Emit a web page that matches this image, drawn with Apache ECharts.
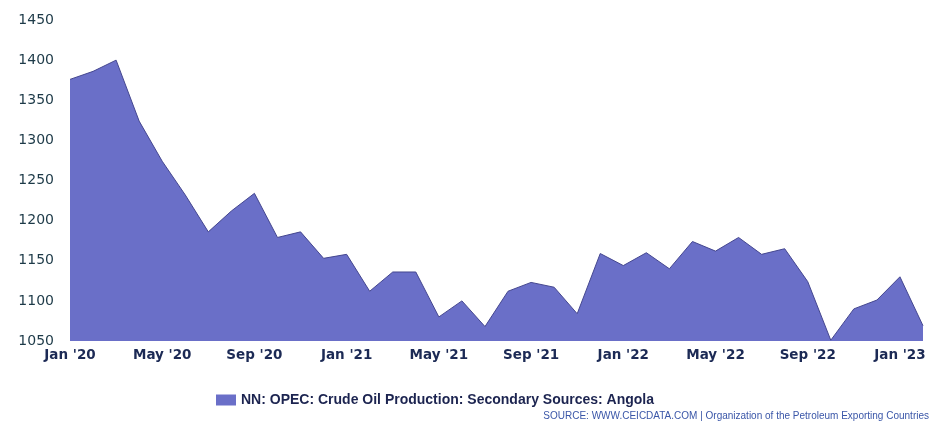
<!DOCTYPE html>
<html>
<head>
<meta charset="utf-8">
<script src="https://cdn.jsdelivr.net/npm/echarts@6/dist/echarts.min.js"></script>
<style>
html,body{margin:0;padding:0;background:#fff;}
#chart{width:931px;height:429px;}
</style>
</head>
<body>
<div id="chart"></div>
<script>
const months = [
  "Jan '20","Feb '20","Mar '20","Apr '20","May '20","Jun '20","Jul '20","Aug '20","Sep '20","Oct '20","Nov '20","Dec '20",
  "Jan '21","Feb '21","Mar '21","Apr '21","May '21","Jun '21","Jul '21","Aug '21","Sep '21","Oct '21","Nov '21","Dec '21",
  "Jan '22","Feb '22","Mar '22","Apr '22","May '22","Jun '22","Jul '22","Aug '22","Sep '22","Oct '22","Nov '22","Dec '22",
  "Jan '23","Feb '23"
];
const angolaProduction = [
  1376, 1386, 1400, 1324, 1274, 1232, 1186, 1212, 1234, 1179, 1186, 1153,
  1158, 1112, 1136, 1136, 1080, 1100, 1068, 1112, 1123, 1117, 1084, 1159,
  1144, 1160, 1140, 1174, 1162, 1179, 1158, 1165, 1124, 1051, 1090, 1101,
  1130, 1069
];
const seriesName = "NN: OPEC: Crude Oil Production: Secondary Sources: Angola";
const sourceText = "SOURCE: WWW.CEICDATA.COM | Organization of the Petroleum Exporting Countries";

const chart = echarts.init(document.getElementById('chart'), null, {renderer: 'canvas'});
chart.setOption({
  animation: false,
  backgroundColor: '#ffffff',
  grid: {left: 70, right: 8, top: 20, bottom: 88},
  legend: {
    data: [seriesName],
    left: 211,
    top: 388,
    icon: 'rect',
    itemWidth: 20,
    itemHeight: 11,
    itemGap: 4,
    textStyle: {fontFamily: 'Liberation Sans, Arial, sans-serif', fontWeight: 'bold', fontSize: 14, color: '#1c2450'}
  },
  graphic: [{
    type: 'text',
    right: 2,
    top: 411,
    style: {text: sourceText, fontFamily: 'Liberation Sans, Arial, sans-serif', fontSize: 10, fill: '#3a56a8'}
  }],
  xAxis: {
    type: 'category',
    data: months,
    boundaryGap: false,
    axisLine: {show: false},
    axisTick: {show: false},
    splitLine: {show: false},
    axisLabel: {
      interval: 3,
      margin: 7,
      fontFamily: 'DejaVu Sans, sans-serif',
      fontWeight: 'bold',
      fontSize: 13.5,
      color: '#1c2a55'
    }
  },
  yAxis: {
    type: 'value',
    min: 1050,
    max: 1450,
    interval: 50,
    axisLine: {show: false},
    axisTick: {show: false},
    splitLine: {show: false},
    axisLabel: {
      margin: 16,
      formatter: function (v) { return String(v); },
      fontFamily: 'DejaVu Sans, sans-serif',
      fontSize: 14,
      color: '#1d3a48'
    }
  },
  series: [{
    name: seriesName,
    type: 'line',
    data: angolaProduction,
    symbol: 'none',
    smooth: false,
    lineStyle: {color: '#45478f', width: 1},
    itemStyle: {color: '#6a6fc8'},
    areaStyle: {color: '#6a6fc8', opacity: 1}
  }]
});
</script>
</body>
</html>
